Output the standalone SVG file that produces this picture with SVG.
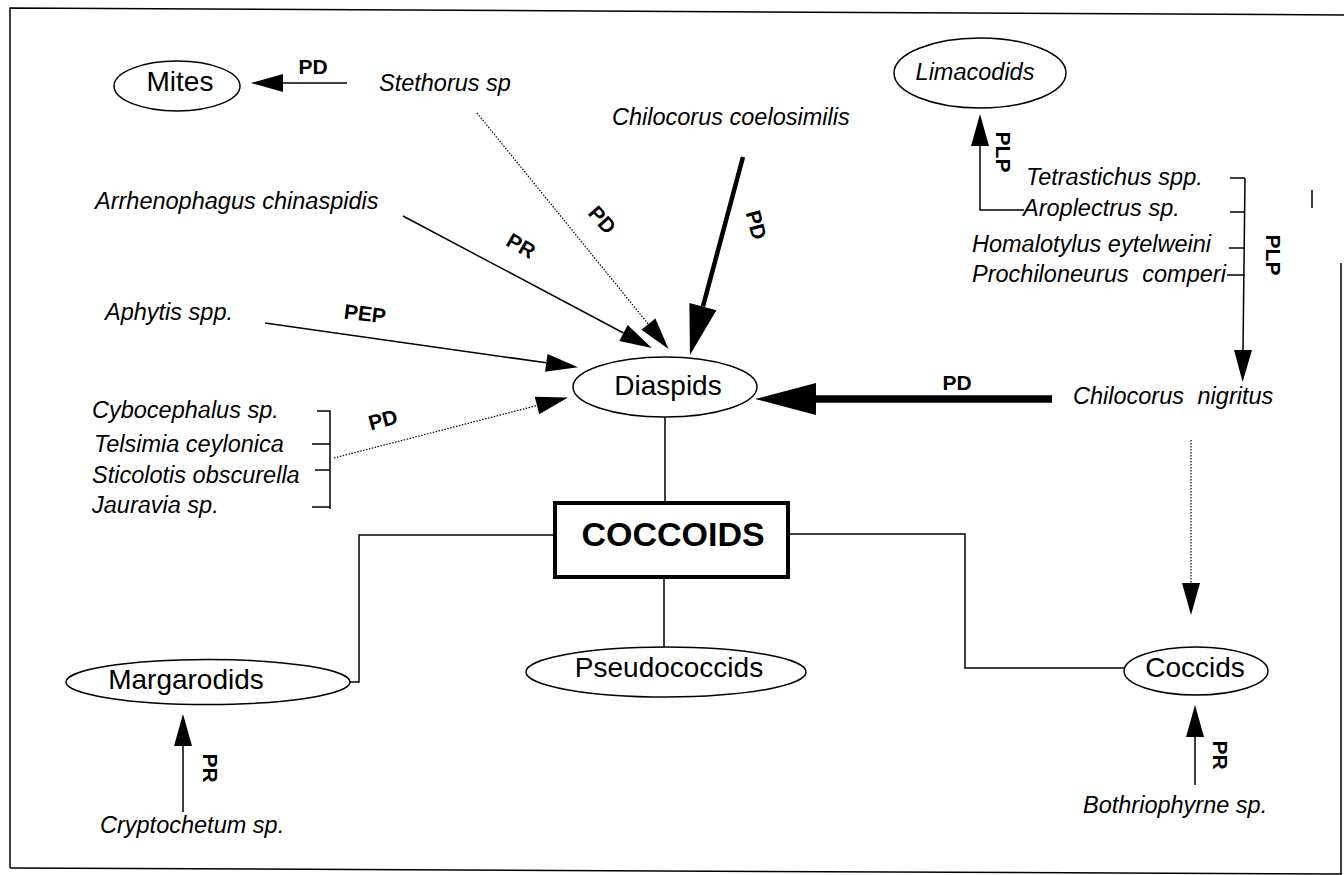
<svg xmlns="http://www.w3.org/2000/svg" width="1344" height="875" viewBox="0 0 1344 875">
<style>
.bg{fill:#fff}
.frame{fill:none;stroke:#000;stroke-width:1.5}
.ell{fill:#fff;stroke:#000;stroke-width:1.5}
.lbl{font-family:"Liberation Sans",Arial,sans-serif;font-size:28px;fill:#000;text-anchor:middle}
.sp{font-family:"Liberation Sans",Arial,sans-serif;font-size:23.5px;font-style:italic;fill:#000}
.rel{font-family:"Liberation Sans",Arial,sans-serif;font-size:21px;font-weight:bold;fill:#000;text-anchor:middle}
.ln{fill:none;stroke:#000;stroke-width:1.5}
.dot{fill:none;stroke:#000;stroke-width:1.2;stroke-dasharray:1.5 1.5}
.thick{fill:none;stroke:#000;stroke-width:4.5}
.xthick{fill:none;stroke:#000;stroke-width:7.5}
</style>
<defs>
<marker id="ah" markerUnits="userSpaceOnUse" orient="auto" refX="0" refY="0" markerWidth="34" markerHeight="20" overflow="visible"><path d="M0,-9 L32,0 L0,9 z" fill="#000"/></marker>
<marker id="ahL" markerUnits="userSpaceOnUse" orient="auto" refX="0" refY="0" markerWidth="52" markerHeight="30" overflow="visible"><path d="M0,-14 L50,0 L0,14 z" fill="#000"/></marker>
<marker id="ahXL" markerUnits="userSpaceOnUse" orient="auto" refX="0" refY="0" markerWidth="62" markerHeight="34" overflow="visible"><path d="M0,-16 L61,0 L0,16 z" fill="#000"/></marker>
</defs>
<rect class="bg" x="0" y="0" width="1344" height="875"/>
<g id="frame">
<path class="frame" d="M10,868 L10,8 L1344,15"/>
<path class="frame" d="M10,868 L1342,874"/>
<path class="frame" d="M1341,263 L1341,874"/>
<path class="frame" d="M1312,190 L1312,208" stroke-width="1"/>
</g>
<g id="connectors">
<path class="ln" d="M347,83 L283,83" marker-end="url(#ah)"/>
<path class="dot" d="M477,113 L648.4,324.2" marker-end="url(#ah)"/>
<path class="ln" d="M403,216 L623.5,333" marker-end="url(#ah)"/>
<path class="thick" d="M743,157 L702.9,306.7" marker-end="url(#ahL)"/>
<path class="ln" d="M265,323 L546.3,362.8" marker-end="url(#ah)"/>
<path class="dot" d="M334,458 L537,405.5" marker-end="url(#ah)"/>
<path class="xthick" d="M1052,399 L816,399" marker-end="url(#ahXL)"/>
<path class="ln" d="M1024,210 L980,210 L980,146" marker-end="url(#ah)"/>
<path class="ln" d="M1245,178 L1243,350" marker-end="url(#ah)"/>
<path class="ln" d="M1230,178 L1245,178 M1230,212 L1245,212 M1229,248 L1245,248 M1227,275 L1245,275"/>
<path class="dot" d="M1191,440 L1191,583" marker-end="url(#ah)"/>
<path class="ln" d="M1195,785 L1195,737" marker-end="url(#ah)"/>
<path class="ln" d="M183,812 L183,746" marker-end="url(#ah)"/>
<path class="ln" d="M317,411 L330,411 L330,509 M312,444 L330,444 M315,470 L330,470 M312,507 L330,507"/>
<path class="ln" d="M665,417 L665,503"/>
<path class="ln" d="M664,579 L664,647"/>
<path class="ln" d="M553,535 L359,535 L359,682 L318,682"/>
<path class="ln" d="M790,534 L965,534 L965,668 L1125,668"/>
</g>
<g id="edge-labels">
<text class="rel" x="313" y="74">PD</text>
<text class="rel" transform="rotate(48 602 220)" x="602" y="227">PD</text>
<text class="rel" transform="rotate(30 521 246)" x="521" y="253">PR</text>
<text class="rel" transform="rotate(75 756 225)" x="756" y="232">PD</text>
<text class="rel" transform="rotate(7 365 314)" x="365" y="321">PEP</text>
<text class="rel" transform="rotate(-15 383 420)" x="383" y="427">PD</text>
<text class="rel" x="957" y="390">PD</text>
<text class="rel" transform="rotate(90 1003 152)" x="1003" y="159">PLP</text>
<text class="rel" transform="rotate(90 1273 255)" x="1273" y="262">PLP</text>
<text class="rel" transform="rotate(90 1220 755)" x="1220" y="762">PR</text>
<text class="rel" transform="rotate(90 210 768)" x="210" y="775">PR</text>
</g>
<g id="mites"><ellipse class="ell" cx="177" cy="86" rx="63" ry="25"/><text class="lbl" x="180" y="91">Mites</text></g>
<g id="limacodids"><ellipse class="ell" cx="980" cy="73" rx="86" ry="35"/><text class="sp" x="975" y="80" text-anchor="middle">Limacodids</text></g>
<g id="diaspids"><ellipse class="ell" cx="665" cy="387" rx="92" ry="30"/><text class="lbl" x="668" y="395">Diaspids</text></g>
<g id="coccoids"><rect x="555" y="503" width="233" height="74" fill="#fff" stroke="#000" stroke-width="4"/><text class="lbl" x="673" y="546" style="font-size:34px;font-weight:bold">COCCOIDS</text></g>
<g id="margarodids"><ellipse class="ell" cx="208" cy="682" rx="142" ry="22.5"/><text class="lbl" x="186" y="689">Margarodids</text></g>
<g id="pseudococcids"><ellipse class="ell" cx="666" cy="672" rx="140" ry="25"/><text class="lbl" x="669" y="677">Pseudococcids</text></g>
<g id="coccids"><ellipse class="ell" cx="1196" cy="671" rx="72" ry="24"/><text class="lbl" x="1195" y="677">Coccids</text></g>
<g id="stethorus"><text class="sp" x="379" y="91">Stethorus sp</text></g>
<g id="chilocorus-coelosimilis"><text class="sp" x="612" y="125">Chilocorus coelosimilis</text></g>
<g id="arrhenophagus"><text class="sp" x="95" y="209">Arrhenophagus chinaspidis</text></g>
<g id="aphytis"><text class="sp" x="105" y="320">Aphytis spp.</text></g>
<g id="coccinellid-group">
<text class="sp" x="92" y="418">Cybocephalus sp.</text>
<text class="sp" x="94" y="452">Telsimia ceylonica</text>
<text class="sp" x="92" y="483">Sticolotis obscurella</text>
<text class="sp" x="92" y="513">Jauravia sp.</text>
</g>
<g id="parasitoid-group">
<text class="sp" x="1026" y="185">Tetrastichus spp.</text>
<text class="sp" x="1023" y="216">Aroplectrus sp.</text>
<text class="sp" x="972" y="252">Homalotylus eytelweini</text>
<text class="sp" x="972" y="282" style="word-spacing:7px">Prochiloneurus comperi</text>
</g>
<g id="chilocorus-nigritus"><text class="sp" x="1073" y="404" style="word-spacing:7px">Chilocorus nigritus</text></g>
<g id="bothriophyrne"><text class="sp" x="1083" y="813">Bothriophyrne sp.</text></g>
<g id="cryptochetum"><text class="sp" x="100" y="833">Cryptochetum sp.</text></g>
</svg>
